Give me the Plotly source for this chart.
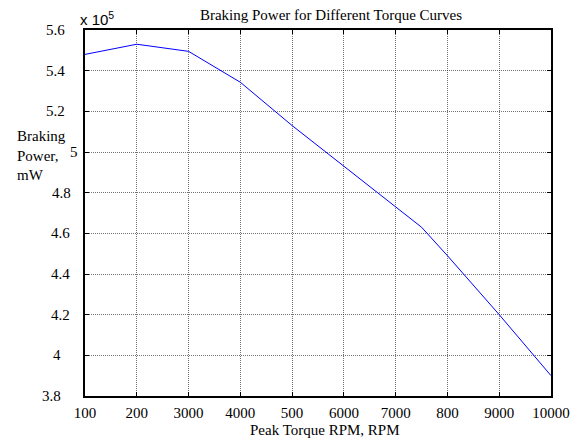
import plotly.graph_objects as go

# Data (power in units of 1e5)
rpm = [1000, 2000, 3000, 4000, 5000, 6000, 7000, 7500, 8000, 9000, 10000]
power = [5.48, 5.53, 5.495, 5.343, 5.13, 4.93, 4.73, 4.63, 4.49, 4.20, 3.90]

x_tickvals = [1000, 2000, 3000, 4000, 5000, 6000, 7000, 8000, 9000, 10000]
x_ticktext = ["100", "200", "3000", "4000", "500", "6000", "7000", "800", "9000", "10000"]
y_tickvals = [3.8, 4.0, 4.2, 4.4, 4.6, 4.8, 5.0, 5.2, 5.4, 5.6]
y_ticktext = ["3.8", "4", "4.2", "4.4", "4.6", "4.8", "5", "5.2", "5.4", "5.6"]
# gap (px) between each y tick label's right edge and the axis, as in the original
y_label_gap = [22, 22, 13, 13, 13, 12, 5, 18, 18, 18]

FONT = "Liberation Serif"
TICKFONT = dict(family="Liberation Serif", size=15, color="black")

fig = go.Figure()
fig.add_trace(go.Scatter(x=rpm, y=power, mode="lines",
                         line=dict(color="rgb(0,0,255)", width=1),
                         showlegend=False, hoverinfo="skip"))

axis_common = dict(
    showline=True, linecolor="black", linewidth=1.5, mirror="ticks",
    showgrid=True, gridcolor="rgba(0,0,0,0.55)", gridwidth=1, griddash="1px,1px",
    ticks="inside", ticklen=4, tickcolor="black", tickwidth=1,
    zeroline=False, automargin=False,
)

fig.update_layout(
    width=585, height=440,
    margin=dict(l=85, r=34, t=30, b=44, autoexpand=False),
    paper_bgcolor="white", plot_bgcolor="white",
    font=dict(family=FONT, size=15, color="black"),
    title=dict(text="Braking Power for Different Torque Curves",
               x=331 / 585, xanchor="center", xref="container",
               y=1 - 15 / 440, yanchor="middle", yref="container",
               font=dict(family=FONT, size=15, color="black")),
    xaxis=dict(range=[1000, 10000], tickmode="array", tickvals=x_tickvals,
               ticktext=x_ticktext, ticklabelstandoff=2, tickfont=TICKFONT,
               **axis_common),
    yaxis=dict(range=[3.8, 5.6], tickmode="array", tickvals=y_tickvals,
               showticklabels=False, **axis_common),
)

for val, txt, gap in zip(y_tickvals, y_ticktext, y_label_gap):
    fig.add_annotation(text=txt, xref="paper", yref="y", x=0, y=val,
                       xanchor="right", yanchor="middle", xshift=-gap,
                       showarrow=False, font=TICKFONT)

fig.add_annotation(text="x 10<sup>5</sup>", xref="paper", yref="paper",
                   x=-7 / 466, y=1, xanchor="left", yanchor="bottom",
                   showarrow=False,
                   font=dict(family="Liberation Sans", size=15, color="black"))

fig.add_annotation(text="Braking<br>Power,<br>mW", xref="paper", yref="paper",
                   x=-70 / 466, y=(396 - 155) / 366, xanchor="left", yanchor="middle",
                   align="left", showarrow=False,
                   font=dict(family=FONT, size=15, color="black"))

fig.add_annotation(text="Peak Torque RPM, RPM", xref="paper", yref="paper",
                   x=(325 - 85) / 466, y=-(430 - 396) / 366, xanchor="center", yanchor="middle",
                   showarrow=False,
                   font=dict(family=FONT, size=15, color="black"))

fig.write_html("out.html", config={"displayModeBar": False},
               post_script="document.body.style.margin='0';")
